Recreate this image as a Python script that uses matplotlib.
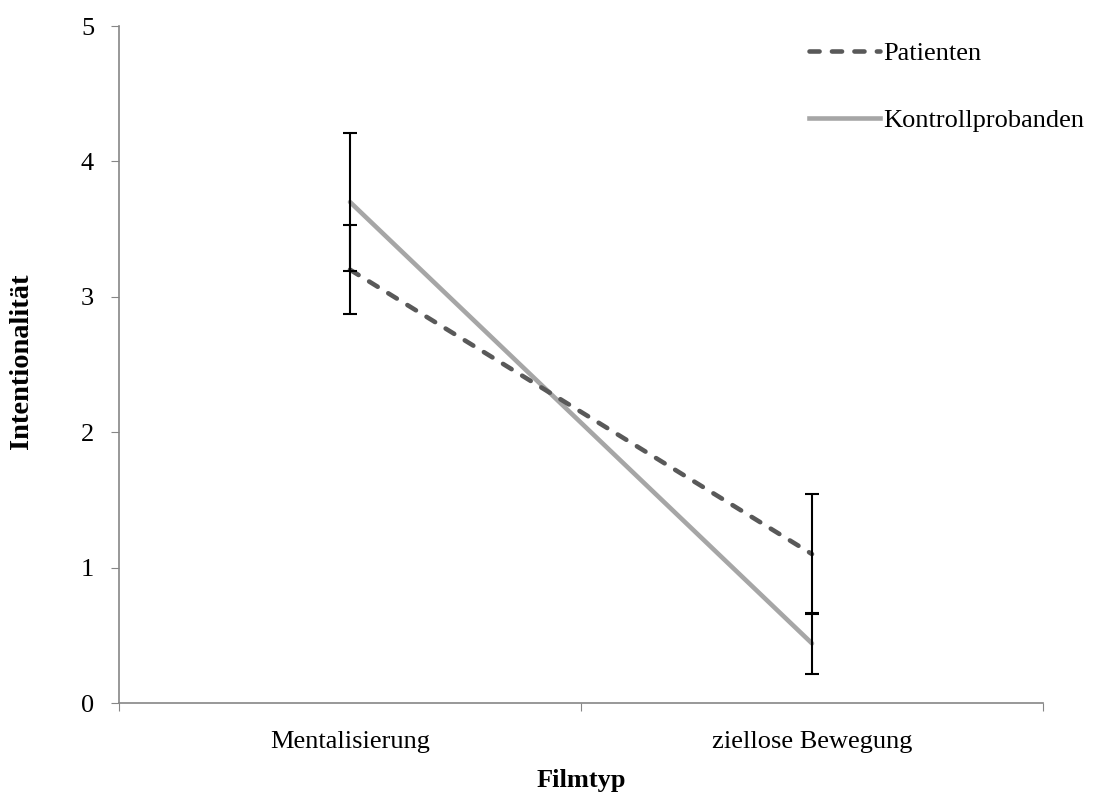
import matplotlib
matplotlib.use("Agg")
import matplotlib.pyplot as plt
from matplotlib.lines import Line2D

# Data
categories = ["Mentalisierung", "ziellose Bewegung"]
patienten = [3.20, 1.10]
patienten_err = [0.33, 0.445]
kontroll = [3.70, 0.44]
kontroll_err = [0.51, 0.225]

DARK = "#595959"
LIGHT = "#A6A6A6"
AXIS = "#868686"
FS = 19
LW = 3.3
DASH = (2.2, 2.7)

plt.rcParams["font.family"] = ["Liberation Serif", "DejaVu Serif"]

fig = plt.figure(figsize=(11.07, 8.0), dpi=100)
ax = fig.add_axes([119 / 1107, 1 - 703 / 800, (1043 - 119) / 1107, (703 - 26) / 800])

x = list(range(len(categories)))

ax.plot(x, kontroll, color=LIGHT, linewidth=LW, solid_capstyle="round", zorder=2)
ax.plot(x, patienten, color=DARK, linewidth=LW, dashes=DASH, dash_capstyle="round", zorder=3)
ax.errorbar(x, kontroll, yerr=kontroll_err, fmt="none", ecolor="black",
            elinewidth=1.5, capsize=5, capthick=1.5, zorder=4)
ax.errorbar(x, patienten, yerr=patienten_err, fmt="none", ecolor="black",
            elinewidth=1.5, capsize=5, capthick=1.5, zorder=4)

ax.set_xlim(-0.5, 1.5)
ax.set_ylim(0, 5)
ax.set_xticks([-0.5, 0.5, 1.5])
ax.set_xticklabels([])
ax.set_xticks(x, minor=True)
ax.set_xticklabels(categories, minor=True, fontsize=FS)
ax.tick_params(axis="x", which="minor", length=0, pad=20)
ax.tick_params(axis="x", which="major", length=6, color=AXIS, direction="out")
ax.set_yticks(range(6))
ax.tick_params(axis="y", labelsize=FS, length=6, color=AXIS, direction="out", pad=12)

for s in ["top", "right"]:
    ax.spines[s].set_visible(False)
for s in ["left", "bottom"]:
    ax.spines[s].set_color(AXIS)
    ax.spines[s].set_linewidth(1.2)

ax.set_xlabel("Filmtyp", fontsize=FS, fontweight="bold", labelpad=12)
ax.set_ylabel("Intentionalität", fontsize=20.5, fontweight="bold")
ax.yaxis.set_label_coords(-0.092, 0.505)

handles = [
    Line2D([], [], color=DARK, linewidth=LW, dashes=DASH, dash_capstyle="round"),
    Line2D([], [], color=LIGHT, linewidth=LW),
]
fig.legend(handles, ["Patienten", "Kontrollprobanden"], loc="upper left",
           bbox_to_anchor=(809 / 1107, 1 - 42 / 800), frameon=False, fontsize=FS,
           handlelength=2.7, handletextpad=0.1, labelspacing=1.65, borderaxespad=0,
           borderpad=0)

fig.savefig("out.png", dpi=100, facecolor="white")
